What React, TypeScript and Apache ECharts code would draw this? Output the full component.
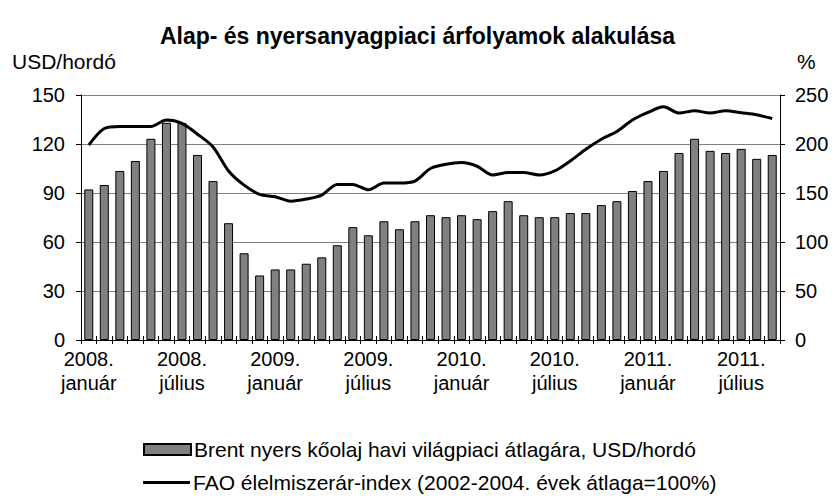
import React, { useEffect, useRef } from "react";
import * as echarts from "echarts";

const years = ["2008.", "2009.", "2010.", "2011."];
const months = ["január", "február", "március", "április", "május", "június", "július", "augusztus", "szeptember", "október", "november", "december"];
const monthCount = 45;

const brent = [
  92.2, 94.9, 103.5, 109.6, 123.2, 133.0, 132.8, 113.3, 97.3, 71.5, 53.1, 39.5,
  43.2, 43.2, 46.7, 50.6, 58.0, 69.1, 64.1, 72.7, 67.8, 72.7, 76.4, 75.2,
  76.4, 74.0, 78.9, 85.0, 76.4, 75.2, 75.2, 77.7, 77.7, 82.6, 85.0, 91.2,
  97.3, 103.5, 114.5, 123.2, 115.8, 114.5, 117.0, 110.9, 113.3,
];

const fao = [
  198.8, 215.8, 217.9, 217.9, 217.9, 224.4, 221.0, 210.0, 197.0, 172.5, 158.0, 148.6,
  146.2, 141.7, 143.8, 147.9, 158.8, 158.8, 153.3, 160.2, 160.2, 162.2, 175.0, 179.3,
  181.0, 177.3, 168.4, 170.8, 170.8, 168.4, 172.5, 182.7, 194.7, 204.9, 212.8, 224.4,
  232.2, 238.0, 231.6, 234.0, 231.6, 234.0, 231.9, 229.8, 226.0,
];

const leftTicks = { min: 0, max: 150, interval: 30 };
const rightTicks = { min: 0, max: 250, interval: 50 };

const titleText = "Alap- és nyersanyagpiaci árfolyamok alakulása";
const leftUnit = "USD/hordó";
const rightUnit = "%";
const brentName = "Brent nyers kőolaj havi világpiaci átlagára, USD/hordó";
const faoName = "FAO élelmiszerár-index (2002-2004. évek átlaga=100%)";

const categories: string[] = [];
for (let i = 0; i < monthCount; i++) {
  categories.push(years[Math.floor(i / 12)] + " " + months[i % 12]);
}

const FONT = "'Liberation Sans', Arial, sans-serif";

export default function App() {
  const ref = useRef<HTMLDivElement>(null);
  useEffect(() => {
    if (!ref.current) return;
    const chart = echarts.init(ref.current, null, { renderer: "svg" });
    const legendText = { fontFamily: FONT, fontSize: 21, color: "#000", padding: [0, 0, 0, -2] };
    chart.setOption({
      animation: false,
      backgroundColor: "#fff",
      textStyle: { fontFamily: FONT, color: "#000" },
      title: {
        text: titleText,
        left: "center",
        top: 19,
        textStyle: { fontFamily: FONT, fontSize: 23, fontWeight: "bold", color: "#000" },
      },
      graphic: [
        { type: "text", left: 12, top: 51, style: { text: leftUnit, font: "21px " + FONT, fill: "#000" } },
        { type: "text", left: 797, top: 51, style: { text: rightUnit, font: "21px " + FONT, fill: "#000" } },
      ],
      legend: [
        {
          left: 138,
          top: 434,
          itemWidth: 47,
          itemHeight: 11,
          textStyle: legendText,
          data: [{ name: brentName, icon: "rect" }],
        },
        {
          left: 138,
          top: 467,
          itemWidth: 47,
          itemHeight: 3,
          textStyle: legendText,
          data: [{ name: faoName, icon: "rect" }],
        },
      ],
      grid: { left: 81, right: 55, top: 95, bottom: 159, containLabel: false },
      xAxis: [
        {
          type: "category",
          data: categories,
          boundaryGap: true,
          axisLine: { lineStyle: { color: "#000", width: 1 } },
          axisTick: { show: true, interval: 0, length: 4, lineStyle: { color: "#000" } },
          axisLabel: {
            interval: 5,
            margin: 7,
            fontSize: 20,
            lineHeight: 24,
            color: "#000",
            fontFamily: FONT,
            formatter: (v: string) => v.replace(" ", "\n"),
          },
        },
        {
          type: "category",
          data: categories,
          position: "bottom",
          boundaryGap: true,
          axisLine: { show: false },
          axisTick: { show: true, inside: true, interval: 0, length: 4, lineStyle: { color: "#000" } },
          axisLabel: { show: false },
          splitLine: { show: false },
        },
      ],
      yAxis: [
        {
          type: "value",
          position: "left",
          min: leftTicks.min,
          max: leftTicks.max,
          interval: leftTicks.interval,
          axisLine: { show: true, lineStyle: { color: "#000" } },
          axisTick: { show: true, length: 5, lineStyle: { color: "#000" } },
          axisLabel: { margin: 16, fontSize: 20, color: "#000", fontFamily: FONT },
          splitLine: { show: true, lineStyle: { color: "#808080", width: 1 } },
        },
        {
          type: "value",
          position: "right",
          min: rightTicks.min,
          max: rightTicks.max,
          interval: rightTicks.interval,
          axisLine: { show: true, lineStyle: { color: "#000" } },
          axisTick: { show: true, length: 5, lineStyle: { color: "#000" } },
          axisLabel: { margin: 15, fontSize: 20, color: "#000", fontFamily: FONT },
          splitLine: { show: false },
        },
      ],
      series: [
        {
          name: brentName,
          type: "bar",
          xAxisIndex: 0,
          yAxisIndex: 0,
          data: brent,
          barCategoryGap: "42%",
          itemStyle: { color: "#808080", borderColor: "#000", borderWidth: 1 },
        },
        {
          name: faoName,
          type: "line",
          xAxisIndex: 0,
          yAxisIndex: 1,
          data: fao,
          smooth: 0.3,
          symbol: "none",
          showSymbol: false,
          lineStyle: { color: "#000", width: 3 },
          itemStyle: { color: "#000" },
        },
      ],
    });
    return () => chart.dispose();
  }, []);
  return <div ref={ref} style={{ width: 835, height: 499, position: "absolute", left: 0, top: 0 }} />;
}
